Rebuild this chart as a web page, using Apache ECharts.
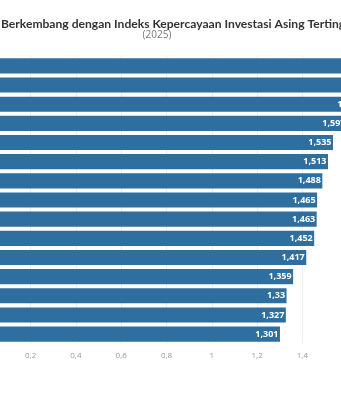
<!DOCTYPE html>
<html>
<head>
<meta charset="utf-8">
<script src="https://cdn.jsdelivr.net/npm/echarts@6/dist/echarts.min.js"></script>
<style>
  html, body { margin: 0; padding: 0; background: #fff; overflow: hidden; width: 341px; height: 400px; }
  #wrap { position: relative; width: 341px; height: 400px; overflow: hidden; }
  #chart { position: absolute; left: -200px; top: 0; width: 714px; height: 400px; }
</style>
</head>
<body>
<div id="wrap"><div id="chart"></div></div>
<script>
// Negara berkembang, urut dari indeks tertinggi
const countries = [
  'China', 'Uni Emirat Arab', 'Arab Saudi', 'Brasil', 'India',
  'Meksiko', 'Polandia', 'Thailand', 'Qatar', 'Indonesia',
  'Argentina', 'Malaysia', 'Afrika Selatan', 'Turki', 'Chili'
];
const indexValues = [
  1.79, 1.71, 1.64, 1.597, 1.535,
  1.513, 1.488, 1.465, 1.463, 1.452,
  1.417, 1.359, 1.33, 1.327, 1.301
];
const tickValues = [0, 0.2, 0.4, 0.6, 0.8, 1, 1.2, 1.4, 1.6, 1.8, 2];

const titleText = 'Negara Berkembang dengan Indeks Kepercayaan Investasi Asing Tertinggi';
const subtitleText = '(2025)';

const fmt = v => String(v).replace('.', ',');

const chart = echarts.init(document.getElementById('chart'), null, { renderer: 'canvas' });
chart.setOption({
  animation: false,
  backgroundColor: '#ffffff',
  title: {
    text: titleText,
    subtext: subtitleText,
    left: 'center',
    top: 13,
    itemGap: 0,
    textStyle: { fontFamily: 'Lato', fontSize: 12.1, fontWeight: 'bold', color: '#333333' },
    subtextStyle: { fontFamily: 'Open Sans', fontSize: 10, color: '#777777' }
  },
  grid: { left: 185.3, right: 75.7, top: 56.3, bottom: 56.3, containLabel: false },
  xAxis: {
    type: 'value',
    min: tickValues[0],
    max: tickValues[tickValues.length - 1],
    interval: 0.2,
    axisLine: { show: false },
    axisTick: { show: false },
    splitLine: { show: true, lineStyle: { color: '#eeeeee', width: 1 } },
    axisLabel: {
      margin: 8,
      fontFamily: 'Open Sans',
      fontSize: 8,
      color: '#999999',
      formatter: v => (v === 0 ? '0' : fmt(+v.toFixed(1)))
    }
  },
  yAxis: {
    type: 'category',
    data: countries,
    inverse: true,
    axisLine: { show: false },
    axisTick: { show: false },
    axisLabel: { fontFamily: 'Open Sans', fontSize: 10, color: '#555555' }
  },
  series: [{
    type: 'bar',
    data: indexValues,
    barCategoryGap: '21%',
    itemStyle: { color: '#2f6fa0' },
    label: {
      show: true,
      position: 'insideRight',
      distance: 1.5,
      fontFamily: 'Open Sans',
      fontSize: 9,
      fontWeight: 'bold',
      color: '#ffffff',
      formatter: p => fmt(p.value)
    }
  }]
});
</script>
</body>
</html>
